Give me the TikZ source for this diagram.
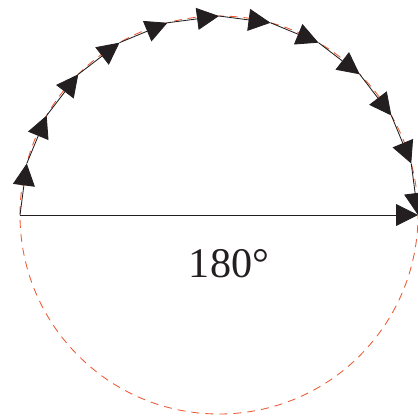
\documentclass[tikz,border=0pt]{standalone}
\usepackage{fontspec}
\setmainfont{Liberation Serif}
\usetikzlibrary{arrows.meta}
\definecolor{arcred}{RGB}{236,88,48}
\definecolor{inkblack}{RGB}{35,31,32}
\begin{document}
\begin{tikzpicture}[
    x=0.025cm, y=0.025cm,
    guide/.style={arcred, line width=0.6pt, dash pattern=on 0.2cm off 0.15cm},
    flow/.style={inkblack, line width=0.6pt, -{Triangle[length=0.55cm, width=0.55cm]}}
]
    \useasboundingbox (-219,-202) rectangle (199,215);
    % Circunferencia de referencia discontinua
    \coordinate (o) at (0,0);
    \draw[guide] (o) circle[radius=199];
    % Puntos del recorrido cada 15 grados
    \foreach \i in {0,...,12} {
        \coordinate (p\i) at ({180-15*\i}:199);
    }
    % Tramos con flecha sobre la semicircunferencia
    \foreach \i [evaluate=\i as \j using int(\i+1)] in {0,...,11} {
        \draw[flow] (p\i) -- (p\j);
    }
    % Diámetro
    \draw[flow] (p0) -- (p12);
    \node[font=\fontsize{30}{36}\selectfont, text=inkblack, anchor=base] (angle) at (10,-62) {180°};
\end{tikzpicture}
\end{document}
